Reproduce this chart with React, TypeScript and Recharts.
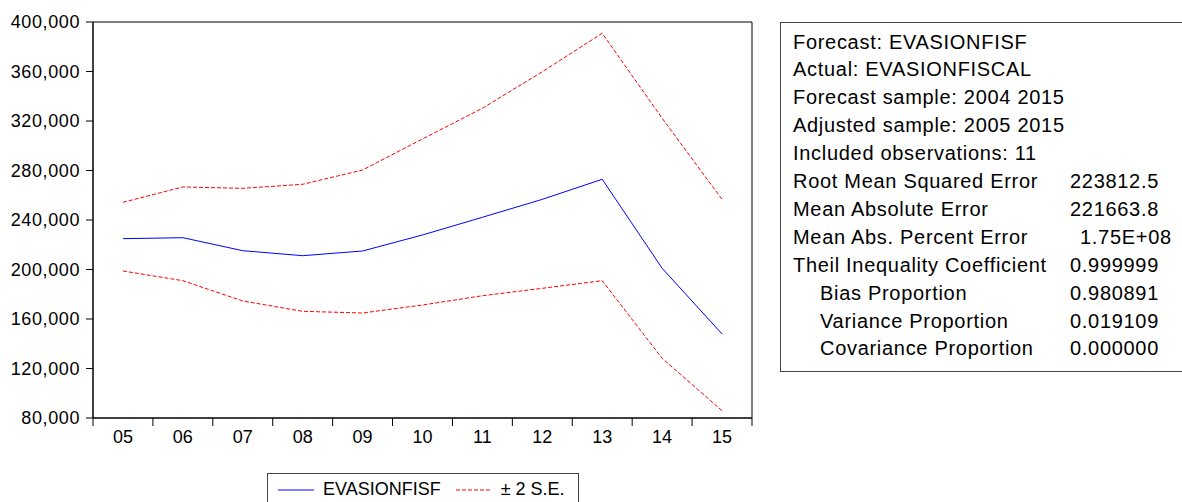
import React from 'react';
import { LineChart, Line, XAxis, YAxis, Legend, ReferenceArea } from 'recharts';

// years of the forecast sample (2005-2015)
const years = ['05', '06', '07', '08', '09', '10', '11', '12', '13', '14', '15'];
const forecast = [224900, 225700, 215200, 211150, 214950, 227900, 242200, 256700, 272900, 201000, 147900];
const upperBand = [254300, 266700, 265600, 268850, 280400, 305500, 330300, 359800, 390900, 322200, 256700];
const lowerBand = [198800, 190950, 174550, 166200, 164850, 171300, 178800, 184800, 190950, 128240, 85900];
const yTicks = [80000, 120000, 160000, 200000, 240000, 280000, 320000, 360000, 400000];

const statLabels = [
  'Forecast: EVASIONFISF',
  'Actual: EVASIONFISCAL',
  'Forecast sample: 2004 2015',
  'Adjusted sample: 2005 2015',
  'Included observations: 11',
  'Root Mean Squared Error',
  'Mean Absolute Error',
  'Mean Abs. Percent Error',
  'Theil Inequality Coefficient',
  'Bias Proportion',
  'Variance Proportion',
  'Covariance Proportion',
];
const statValues = ['', '', '', '', '', '223812.5', '221663.8', '1.75E+08', '0.999999', '0.980891', '0.019109', '0.000000'];
const indentedRows = [9, 10, 11];

const chartData = years.map((year, i) => ({
  year,
  forecast: forecast[i],
  upper: upperBand[i],
  lower: lowerBand[i],
}));

const FONT = '"Liberation Sans", Arial, sans-serif';
const PLOT_LEFT = 93;
const PLOT_RIGHT = 752;
const HALF_BAND = (PLOT_RIGHT - PLOT_LEFT) / years.length / 2;

const YearTick = (props: any) => {
  const { x, y, payload, index } = props;
  return (
    <g>
      <line x1={x - HALF_BAND} y1={y - 8} x2={x - HALF_BAND} y2={y} stroke="#000" />
      {index === years.length - 1 && (
        <line x1={x + HALF_BAND} y1={y - 8} x2={x + HALF_BAND} y2={y} stroke="#000" />
      )}
      <text x={x} y={y + 17} textAnchor="middle" fontSize={18} fontFamily={FONT} fill="#000">
        {payload.value}
      </text>
    </g>
  );
};

const LegendBox = (props: any) => {
  const items = (props.payload || []).filter((p: any) => p.type !== 'none');
  return (
    <div
      style={{
        width: 312,
        height: 40,
        border: '1px solid #444',
        boxSizing: 'border-box',
        display: 'flex',
        flexWrap: 'nowrap',
        alignItems: 'flex-start',
        paddingLeft: 10,
        paddingTop: 5,
        fontFamily: FONT,
        fontSize: 18,
        color: '#000',
        background: '#fff',
        whiteSpace: 'nowrap',
      }}
    >
      {items.map((item: any, i: number) => (
        <div key={i} style={{ display: 'flex', alignItems: 'center', marginRight: 15, flexShrink: 0 }}>
          <svg width={36} height={20} style={{ marginRight: 9 }}>
            <line
              x1={0}
              y1={11}
              x2={36}
              y2={11}
              stroke={item.color}
              strokeDasharray={item.dataKey === 'forecast' ? undefined : '4 2'}
            />
          </svg>
          <span style={{ lineHeight: '20px' }}>{item.value}</span>
        </div>
      ))}
    </div>
  );
};

const StatsBox = () => (
  <div
    style={{
      position: 'absolute',
      left: 780,
      top: 22,
      width: 420,
      height: 350,
      border: '1px solid #444',
      boxSizing: 'border-box',
      fontFamily: FONT,
      fontSize: 20,
      letterSpacing: 0.7,
      color: '#000',
      background: '#fff',
    }}
  >
    {statLabels.map((label, i) => (
      <React.Fragment key={i}>
        <div
          style={{
            position: 'absolute',
            left: (indentedRows.includes(i) ? 820 : 793) - 781,
            top: 28.5 + 27.9 * i - 23,
            lineHeight: '27.9px',
            whiteSpace: 'nowrap',
          }}
        >
          {label}
        </div>
        {statValues[i] && (
          <div
            style={{
              position: 'absolute',
              left: (statValues[i].includes('E') ? 1080 : 1070) - 781,
              top: 28.5 + 27.9 * i - 23,
              lineHeight: '27.9px',
              whiteSpace: 'nowrap',
            }}
          >
            {statValues[i]}
          </div>
        )}
      </React.Fragment>
    ))}
  </div>
);

export default function App() {
  return (
    <div
      style={{
        position: 'absolute',
        left: 0,
        top: 0,
        width: 1182,
        height: 502,
        overflow: 'hidden',
        background: '#fff',
      }}
    >
      <LineChart
        width={1182}
        height={502}
        data={chartData}
        margin={{ top: 22, right: 1182 - PLOT_RIGHT, bottom: 54, left: 0 }}
      >
        <XAxis
          dataKey="year"
          scale="band"
          height={30}
          tickSize={8}
          tickMargin={0}
          tickLine={false}
          axisLine={{ stroke: '#000' }}
          interval={0}
          tick={<YearTick />}
        />
        <YAxis
          width={PLOT_LEFT}
          domain={[80000, 400000]}
          ticks={yTicks}
          interval={0}
          tickSize={7}
          tickMargin={6}
          axisLine={{ stroke: '#000' }}
          tickLine={{ stroke: '#000' }}
          tick={{ fontSize: 18, fontFamily: FONT, fill: '#000', letterSpacing: 0.6 }}
          tickFormatter={(v: number) => v.toLocaleString('en-US')}
        />
        {/* frame around the plot area */}
        <ReferenceArea
          y1={80000}
          y2={400000}
          fill="none"
          fillOpacity={0}
          stroke="#000"
          strokeOpacity={1}
          strokeWidth={1}
        />
        <Line
          dataKey="forecast"
          name="EVASIONFISF"
          stroke="#0000ff"
          strokeWidth={1}
          dot={false}
          isAnimationActive={false}
        />
        <Line
          dataKey="upper"
          name="± 2 S.E."
          stroke="#ff0000"
          strokeWidth={1}
          strokeDasharray="4 2"
          dot={false}
          isAnimationActive={false}
        />
        <Line
          dataKey="lower"
          name="lower"
          legendType="none"
          stroke="#ff0000"
          strokeWidth={1}
          strokeDasharray="4 2"
          dot={false}
          isAnimationActive={false}
        />
        <Legend
          layout="horizontal"
          verticalAlign="middle"
          align="center"
          content={<LegendBox />}
          wrapperStyle={{ position: 'absolute', left: 267, top: 473, width: 312, height: 40 }}
        />
      </LineChart>
      <StatsBox />
    </div>
  );
}
